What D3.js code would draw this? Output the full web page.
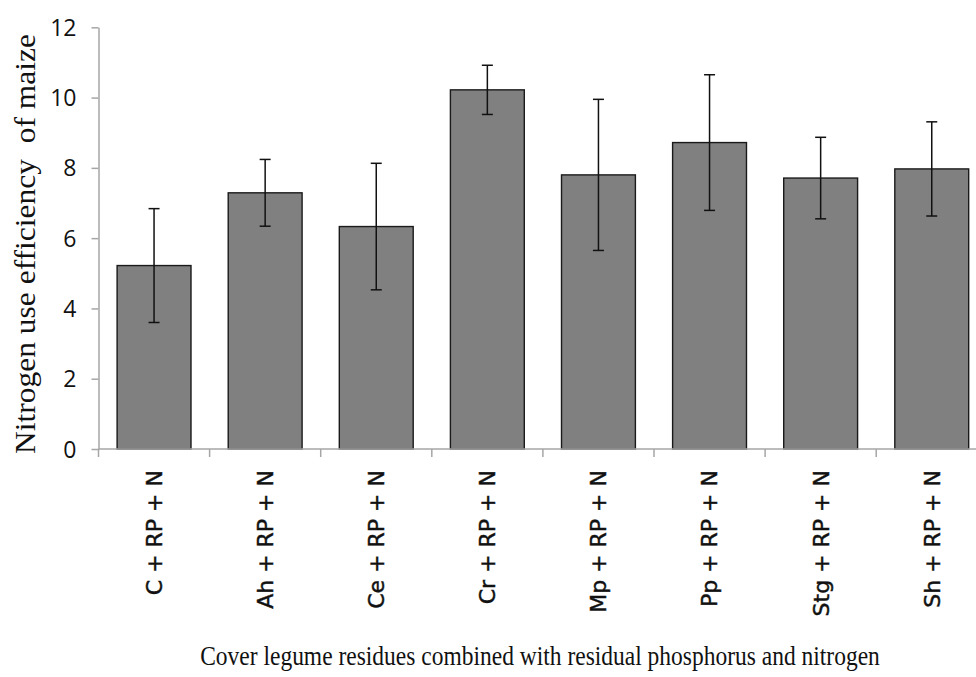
<!DOCTYPE html>
<html>
<head>
<meta charset="utf-8">
<script src="https://cdn.jsdelivr.net/npm/d3@7"></script>
<style>
  html, body { margin: 0; padding: 0; background: #fff; }
  svg { display: block; }
</style>
</head>
<body>
<svg id="chart" width="976" height="677"></svg>
<script>
// Treatments (cover legume residue + residual P + N)
const categories = ["C + RP + N", "Ah + RP + N", "Ce + RP + N", "Cr + RP + N",
                    "Mp + RP + N", "Pp + RP + N", "Stg + RP + N", "Sh + RP + N"];
// Mean nitrogen use efficiency of maize
const values = [5.22, 7.29, 6.33, 10.22, 7.80, 8.72, 7.71, 7.97];
// Error bar half-widths (±)
const errors = [1.62, 0.95, 1.80, 0.70, 2.15, 1.93, 1.16, 1.34];
// Y axis ticks
const yTicks = [0, 2, 4, 6, 8, 10, 12];

const yTitle = "Nitrogen use efficiency  of maize";
const xTitle = "Cover legume residues combined with residual phosphorus and nitrogen";

const svg = d3.select("#chart");
const axisColor = "#a6a6a6";

const plotLeft = 98.5, plotTop = 27.3, plotBottom = 449;
const step = 111.1;

const x = d3.scaleBand()
  .domain(categories)
  .range([plotLeft, plotLeft + step * categories.length])
  .paddingInner(0.335)
  .paddingOuter(0.1675);

const y = d3.scaleLinear().domain([0, 12]).range([plotBottom, plotTop]);

const data = categories.map((c, i) => ({ c, v: values[i], e: errors[i] }));

// Bars
svg.append("g").selectAll("rect").data(data).join("rect")
  .attr("x", d => x(d.c))
  .attr("y", d => y(d.v))
  .attr("width", x.bandwidth())
  .attr("height", d => y(0) - y(d.v))
  .attr("fill", "#808080")
  .attr("stroke", "#1a1a1a")
  .attr("stroke-width", 1.4);

// Error bars
const eb = svg.append("g").attr("stroke", "#111").attr("stroke-width", 1.5);
const cx = d => x(d.c) + x.bandwidth() / 2;
eb.selectAll("line.v").data(data).join("line").attr("class", "v")
  .attr("x1", cx).attr("x2", cx)
  .attr("y1", d => y(d.v + d.e)).attr("y2", d => y(d.v - d.e));
eb.selectAll("line.t").data(data).join("line").attr("class", "t")
  .attr("x1", d => cx(d) - 5.5).attr("x2", d => cx(d) + 5.5)
  .attr("y1", d => y(d.v + d.e)).attr("y2", d => y(d.v + d.e));
eb.selectAll("line.b").data(data).join("line").attr("class", "b")
  .attr("x1", d => cx(d) - 5.5).attr("x2", d => cx(d) + 5.5)
  .attr("y1", d => y(d.v - d.e)).attr("y2", d => y(d.v - d.e));

// Y axis
const yAxis = svg.append("g")
  .attr("transform", `translate(${plotLeft},0)`)
  .call(d3.axisLeft(y).tickValues(yTicks).tickSize(7).tickPadding(15).tickSizeOuter(0));
yAxis.select(".domain").attr("stroke", axisColor).attr("stroke-width", 1.5);
yAxis.selectAll(".tick line").attr("stroke", axisColor).attr("stroke-width", 1.5);
yAxis.selectAll(".tick text")
  .attr("fill", "#111")
  .style("font-family", "'Open Sans', sans-serif")
  .style("font-size", "23px")
  .attr("dy", "0.35em");

// X axis baseline and category boundary ticks
svg.append("line")
  .attr("x1", plotLeft).attr("x2", 976)
  .attr("y1", y(0)).attr("y2", y(0))
  .attr("stroke", axisColor).attr("stroke-width", 1.5);
svg.append("g").selectAll("line").data(categories).join("line")
  .attr("x1", (d, i) => x.range()[0] + i * x.step())
  .attr("x2", (d, i) => x.range()[0] + i * x.step())
  .attr("y1", y(0)).attr("y2", y(0) + 8)
  .attr("stroke", axisColor).attr("stroke-width", 1.5);

// Rotated category labels
svg.append("g").selectAll("text").data(categories).join("text")
  .attr("transform", d => `translate(${x(d) + x.bandwidth() / 2},470) rotate(-90)`)
  .attr("text-anchor", "end")
  .attr("dy", "0.36em")
  .attr("fill", "#111")
  .attr("stroke", "#111")
  .attr("stroke-width", 0.45)
  .style("font-family", "'DejaVu Sans', sans-serif")
  .style("font-size", "22px")
  .text(d => d);

// Axis titles: the serif titles are squeezed/stretched along their length
function fitTitle(sel, length) {
  const natural = sel.node().getComputedTextLength();
  return length / natural;
}

const yt = svg.append("text")
  .attr("text-anchor", "middle")
  .attr("fill", "#111")
  .style("font-family", "'Liberation Serif', serif")
  .style("font-size", "29px")
  .style("white-space", "pre")
  .text(yTitle);
yt.attr("transform", `translate(35,244) rotate(-90) scale(${fitTitle(yt, 420)},1)`);

const xt = svg.append("text")
  .attr("text-anchor", "middle")
  .attr("fill", "#111")
  .style("font-family", "'Liberation Serif', serif")
  .style("font-size", "27px")
  .text(xTitle);
xt.attr("transform", `translate(540,665) scale(${fitTitle(xt, 680)},1)`);
</script>
</body>
</html>
